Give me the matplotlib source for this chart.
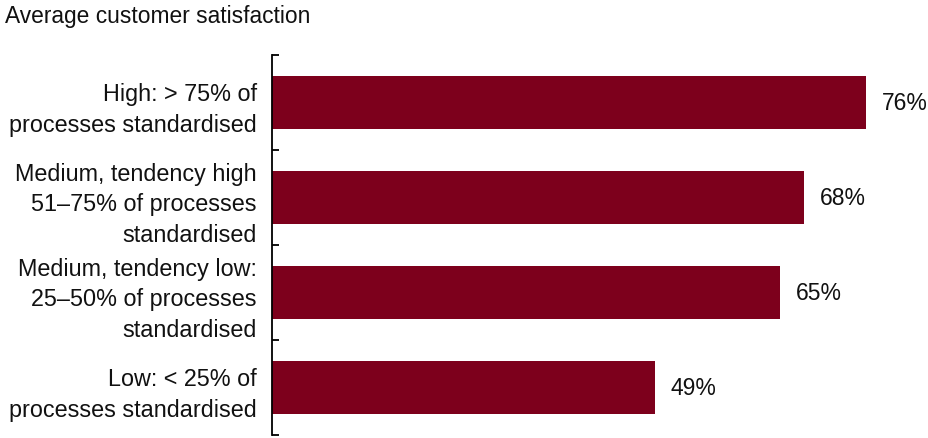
import matplotlib
matplotlib.use("Agg")
from matplotlib import pyplot as plt
import numpy as np

plt.rcParams['font.family'] = ['Liberation Sans', 'DejaVu Sans']

categories = [
    "High: > 75% of\nprocesses standardised",
    "Medium, tendency high\n51\u201375% of processes\nstandardised",
    "Medium, tendency low:\n25\u201350% of processes\nstandardised",
    "Low: < 25% of\nprocesses standardised",
]
values = [76, 68, 65, 49]
title = "Average customer satisfaction"

W, H = 929, 439
fig = plt.figure(figsize=(W / 100, H / 100), dpi=100)
ax = fig.add_axes([272 / W, 3 / H, (W - 272) / W, 380 / H])

y = np.arange(len(values))
ax.barh(y, values, height=0.56, color="#7d001c")
for yi, v in zip(y, values):
    ax.text(v + 2, yi, f"{v}%", va="center", ha="left", fontsize=16.5, color="#111111")

ax.set_ylim(len(values) - 0.5, -0.5)
ax.set_xlim(0, 84)
ax.set_yticks(y)
ax.set_yticklabels(categories, fontsize=16.8, linespacing=1.42, color="#111111")
ax.tick_params(axis="y", which="major", length=0, pad=11)
ax.set_yticks(np.arange(-0.5, len(values), 1.0), minor=True)
ax.tick_params(axis="y", which="minor", length=5, width=1.3, direction="in")
ax.set_xticks([])
for side in ["top", "right", "bottom"]:
    ax.spines[side].set_visible(False)
ax.spines["left"].set_linewidth(1.3)

fig.text(5 / W, 1 - 17 / H, title, fontsize=16.4, va="center", ha="left", color="#111111")

fig.savefig("out.png", dpi=100)
